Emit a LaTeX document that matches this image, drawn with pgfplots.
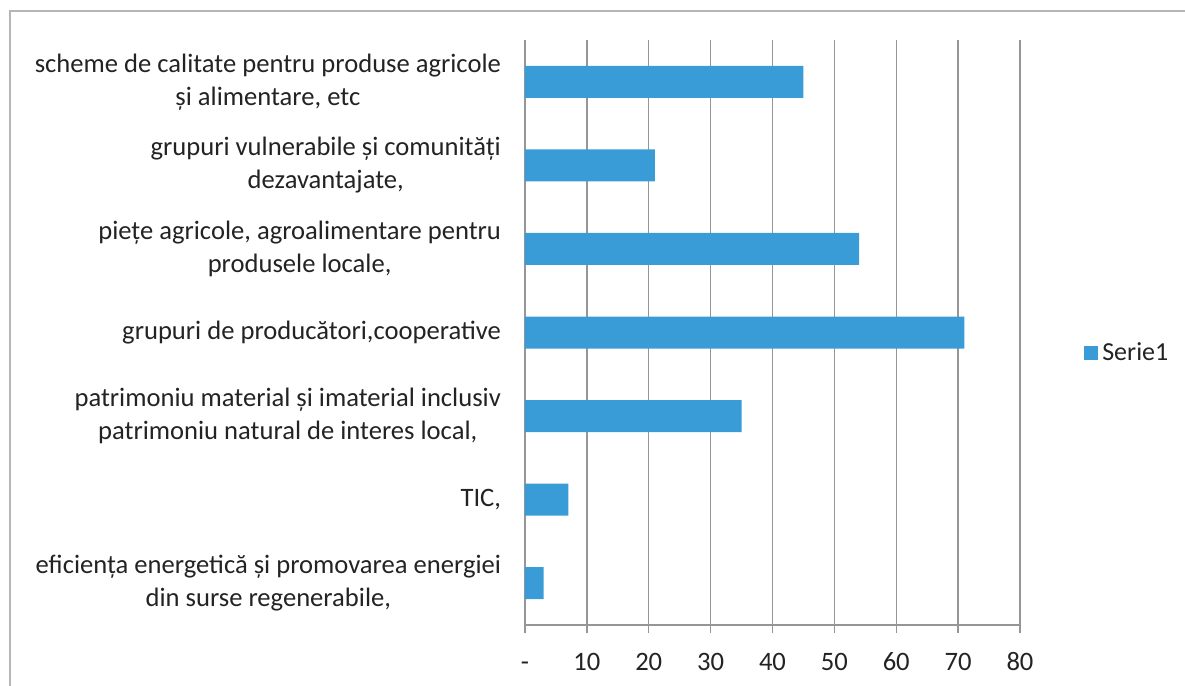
\documentclass[border=0pt]{standalone}
\usepackage{pgfplots}
\pgfplotsset{compat=1.18}
\usepackage{fontspec}
\setmainfont{Carlito}
\definecolor{barblue}{RGB}{58,156,214}
\definecolor{gridgray}{RGB}{150,150,150}
\definecolor{txt}{RGB}{35,35,35}
\begin{document}
\begin{tikzpicture}
\useasboundingbox (-262.5pt,-30.5pt) rectangle (330pt,312.5pt);
\draw[gridgray!70,line width=0.8pt] (-257.5pt,-30.5pt) -- (-257.5pt,307pt) -- (330pt,307pt);
\begin{axis}[
  at={(0pt,0pt)}, anchor=south west,
  scale only axis, width=247.5pt, height=292.5pt,
  xbar, bar width=16pt,
  xmin=0, xmax=80, ymin=-0.5, ymax=6.5,
  axis x line*=bottom, axis y line*=left,
  axis line style={gridgray, line width=0.7pt},
  xtick={0,10,...,80},
  xticklabels={-,10,20,30,40,50,60,70,80},
  xmajorgrids, major grid style={gridgray, line width=0.7pt},
  major tick length=4pt,
  xtick style={gridgray, line width=0.7pt},
  xticklabel style={yshift=-6pt, text height=9pt, text depth=0pt},
  ytick={0,...,6},
  yticklabels={
    {eficiența energetică și promovarea energiei\\din surse regenerabile,},
    {TIC,},
    {patrimoniu material și imaterial inclusiv\\patrimoniu natural de interes local,},
    {grupuri de producători,cooperative},
    {piețe agricole, agroalimentare pentru\\produsele locale,},
    {grupuri vulnerabile și comunități\\dezavantajate,},
    {scheme de calitate pentru produse agricole\\și alimentare, etc}},
  yticklabel style={align=center, xshift=-4.5pt},
  ytick style={draw=none},
  minor ytick={-0.5,0.5,...,6.5},
  minor tick length=4pt,
  minor y tick style={gridgray, line width=0.7pt},
  tick align=outside,
  ticklabel style={font=\fontsize{13.3}{16.5}\selectfont, text=txt},
  /pgf/number format/assume math mode=true,
  legend style={at={(1.117,0.465)}, anchor=west, draw=none, fill=none,
    font=\fontsize{13}{15.5}\selectfont, text=txt,
    nodes={inner xsep=2pt}},
  legend image code/.code={\fill[barblue] (0pt,-3.5pt) rectangle (7pt,3.5pt);},
]
\addplot[fill=barblue, draw=none] coordinates {
  (3,0) (7,1) (35,2) (71,3) (54,4) (21,5) (45,6)};
\addlegendentry{Serie1}
\end{axis}
\end{tikzpicture}
\end{document}
